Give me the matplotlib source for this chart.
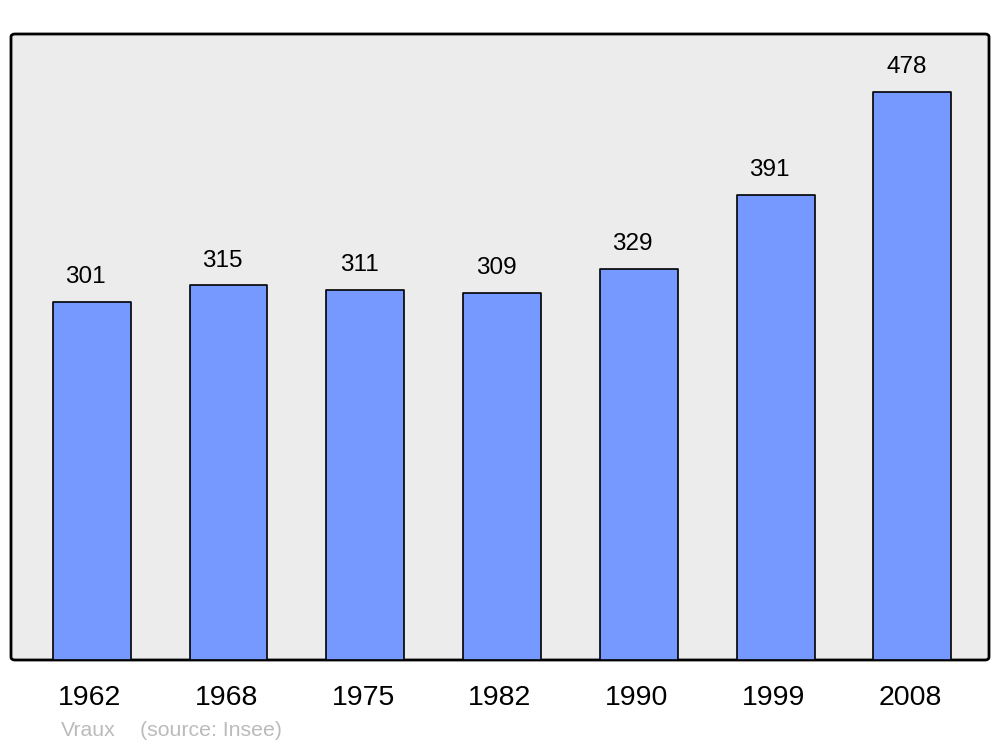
import matplotlib.pyplot as plt
from matplotlib.patches import FancyBboxPatch

years = ["1962", "1968", "1975", "1982", "1990", "1999", "2008"]
population = [301, 315, 311, 309, 329, 391, 478]

plt.rcParams["font.family"] = ["Liberation Sans", "DejaVu Sans"]

fig = plt.figure(figsize=(10, 7.47), dpi=100)
ax = fig.add_axes([11 / 1000, 1 - 660 / 747, 978 / 1000, 626 / 747])
ax.set_facecolor("none")
ax.set_zorder(2)

# fond gris avec coins arrondis
bg = FancyBboxPatch((11 / 1000, 1 - 660 / 747), 978 / 1000, 626 / 747,
                    boxstyle="round,pad=0,rounding_size=0.004",
                    transform=fig.transFigure, facecolor="#ececec",
                    edgecolor="black", linewidth=2, zorder=-1)
fig.patches.append(bg)

x = range(len(years))
bars = ax.bar(x, population, width=0.57, color="#7599ff", edgecolor="black",
              linewidth=1.2, zorder=2)
for b in bars:
    b.set_joinstyle("round")

# valeurs au-dessus des barres (un peu décalées à gauche comme l'original)
for i, v in enumerate(population):
    ax.text(i - 0.045, v + 21, str(v), ha="center", va="center", fontsize=17.5)

ax.set_xlim(-0.59, 6.56)
ax.set_ylim(0, 526.5)
ax.set_xticks([])
ax.set_yticks([])
for s in ax.spines.values():
    s.set_visible(False)

for i, y in enumerate(years):
    ax.text(i - 0.015, -32, y, ha="center", va="center", fontsize=20.5, clip_on=False)

fig.text(61 / 1000, 1 - 730 / 747, "Vraux", color="#bbbbbb", fontsize=15.3, va="center")
fig.text(140 / 1000, 1 - 730 / 747, "(source: Insee)", color="#bbbbbb", fontsize=15.3, va="center")

fig.savefig("out.png", dpi=100)
